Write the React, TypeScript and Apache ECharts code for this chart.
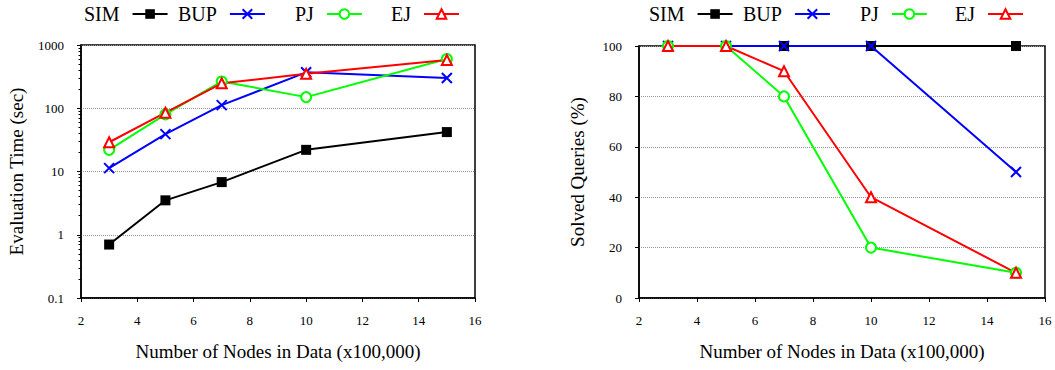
import React, { useEffect, useRef } from "react";
import * as echarts from "echarts";

const nodes = [3, 5, 7, 10, 15];
const seriesNames = ["SIM", "BUP", "PJ", "EJ"];

const timeSIM = [0.7, 3.5, 6.8, 22, 42];
const timeBUP = [11.3, 39, 112, 370, 300];
const timePJ = [22, 80, 265, 150, 600];
const timeEJ = [29, 85, 248, 350, 580];

const solvedSIM = [100, 100, 100, 100, 100];
const solvedBUP = [100, 100, 100, 100, 50];
const solvedPJ = [100, 100, 80, 20, 10];
const solvedEJ = [100, 100, 90, 40, 10];

const FONT = "'Liberation Serif', 'Times New Roman', serif";
const colors = ["#000000", "#0000ff", "#00ff00", "#ff0000"];
const symbols = ["rect", "path://M0,0L10,10M10,0L0,10", "emptyCircle", "emptyTriangle"];
const legendLeftA = [84, 178, 295, 391];
const legendLeftB = [649, 743, 860, 955];

function makeSeries(name: string, idx: number, values: number[], axisIndex: number) {
  const isCross = idx === 1;
  return {
    type: "line",
    name,
    xAxisIndex: axisIndex,
    yAxisIndex: axisIndex,
    data: nodes.map((n, i) => [n, values[i]]),
    symbol: symbols[idx],
    symbolSize: 10,
    showAllSymbol: true,
    clip: false,
    lineStyle: { color: colors[idx], width: 2 },
    itemStyle: isCross
      ? { color: colors[idx], borderColor: colors[idx], borderWidth: 2 }
      : { color: colors[idx], borderColor: colors[idx], borderWidth: idx === 0 ? 0 : 1.5 },
    emphasis: { disabled: true },
  };
}

function makeLegend(name: string, left: number) {
  return {
    data: [name],
    left,
    top: 4,
    orient: "horizontal",
    align: "right",
    padding: 0,
    itemWidth: 35,
    itemHeight: 12,
    selectedMode: false,
    textStyle: { fontFamily: FONT, fontSize: 20, color: "#000", padding: [0, 8, 0, 0] },
  };
}

const axisCommon = {
  axisLine: { show: true, lineStyle: { color: "#000", width: 1.5 } },
  axisTick: { show: true, inside: false, length: 4, lineStyle: { color: "#000", width: 1 } },
  axisLabel: { fontFamily: FONT, fontSize: 13, color: "#000" },
  nameTextStyle: { fontFamily: FONT, fontSize: 19, color: "#000" },
};

export default function App() {
  const ref = useRef<HTMLDivElement>(null);
  useEffect(() => {
    if (!ref.current) return;
    const chart = echarts.init(ref.current, null, { renderer: "svg" });
    const option: any = {
      animation: false,
      backgroundColor: "#ffffff",
      legend: [
        ...seriesNames.map((n, i) => makeLegend(n, legendLeftA[i])),
        ...seriesNames.map((n, i) => makeLegend(n, legendLeftB[i])),
      ],
      grid: [
        { left: 81, top: 45, width: 394, height: 253, show: true, borderColor: "#000", borderWidth: 1.5 },
        { left: 639, top: 46, width: 406, height: 252, show: true, borderColor: "#000", borderWidth: 1.5 },
      ],
      xAxis: [0, 1].map((g) => ({
        ...axisCommon,
        type: "value",
        gridIndex: g,
        min: 2,
        max: 16,
        interval: 2,
        splitLine: { show: false },
        axisLabel: { ...axisCommon.axisLabel, margin: 16 },
        name: "Number of Nodes in Data (x100,000)",
        nameLocation: "middle",
        nameGap: 44,
      })),
      yAxis: [
        {
          ...axisCommon,
          type: "log",
          logBase: 10,
          gridIndex: 0,
          min: 0.1,
          max: 1000,
          axisLabel: {
            ...axisCommon.axisLabel,
            margin: 17,
            formatter: (v: number) => (v < 1 ? String(Number(v.toFixed(1))) : String(Math.round(v))),
          },
          minorTick: { show: true, splitNumber: 9, length: 2.5, lineStyle: { color: "#000", width: 1 } },
          splitLine: { show: true, lineStyle: { color: "#999", type: "dotted", width: 1 } },
          name: "Evaluation Time (sec)",
          nameLocation: "middle",
          nameRotate: 90,
          nameGap: 55,
        },
        {
          ...axisCommon,
          type: "value",
          gridIndex: 1,
          min: 0,
          max: 100,
          interval: 20,
          axisLabel: { ...axisCommon.axisLabel, margin: 17 },
          splitLine: { show: true, lineStyle: { color: "#999", type: "dotted", width: 1 } },
          name: "Solved Queries (%)",
          nameLocation: "middle",
          nameRotate: 90,
          nameGap: 52,
        },
      ],
      series: [
        makeSeries("SIM", 0, timeSIM, 0),
        makeSeries("BUP", 1, timeBUP, 0),
        makeSeries("PJ", 2, timePJ, 0),
        makeSeries("EJ", 3, timeEJ, 0),
        makeSeries("SIM", 0, solvedSIM, 1),
        makeSeries("BUP", 1, solvedBUP, 1),
        makeSeries("PJ", 2, solvedPJ, 1),
        makeSeries("EJ", 3, solvedEJ, 1),
      ],
    };
    chart.setOption(option);
    return () => chart.dispose();
  }, []);
  return (
    <div
      ref={ref}
      style={{ position: "fixed", left: 0, top: 0, width: 1055, height: 370, background: "#fff" }}
    />
  );
}
